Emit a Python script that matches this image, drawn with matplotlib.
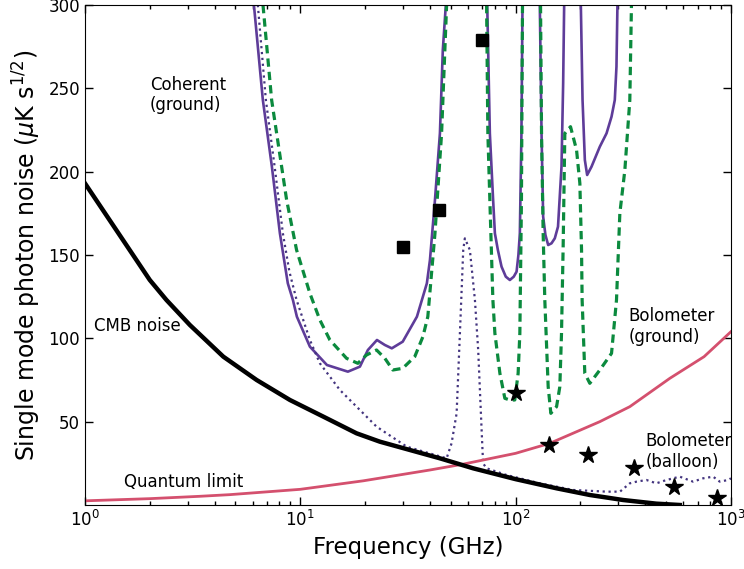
import numpy as np
import matplotlib
matplotlib.use('Agg')
import matplotlib.pyplot as plt

nan = np.nan

# CMB photon noise
cmb_freq = [1, 2, 2.39, 3.07, 4.39, 6.27, 8.95, 12.8, 18.25, 23.4, 44.5, 63.5,
            100, 155, 221, 315, 450, 578]
cmb_noise = [193, 135, 123, 108, 89, 75, 63, 53, 43, 38, 28, 22,
             15.5, 10, 6, 3, 0.8, 0]

# quantum limit
q_freq = [1, 2, 3.4, 4.7, 10, 19.6, 40, 57, 100, 144, 246, 339, 520, 750, 1000]
q_noise = [2.5, 3.8, 5.2, 6.2, 9.4, 14.5, 21, 24.5, 31, 37, 50, 59, 76, 89, 104]

# coherent (ground), solid - segments split by nan
coh_freq = [6.09, 6.70, 7.38, 8.04, 8.75, 9.24, 9.64, 11.08, 13.29, 16.63, 18.91,
            20.6, 22.7, 24.7, 26.6, 29.9, 34.8, 38.7, 40.0, 42.2, 44.5, 45.9, 47.4,
            nan,
            73.8, 75.9, 78.6, 80.1, 82.7, 86.0, 90, 94, 98, 101, 103, 104.6, 106.4,
            107.6,
            nan,
            129.5, 131.9, 134.2, 137.5, 141.6, 146.7, 152, 157.3, 163.3, 166.2, 168,
            nan,
            200.8, 204.5, 209.6, 214.8, 225.1, 246, 264.3, 278.8, 288.7, 293.9, 297]
coh_noise = [300, 243, 203, 163, 133, 123, 113, 95, 84, 80, 83,
             93, 99, 96, 94, 98, 113, 133, 147, 183, 223, 273, 300,
             nan,
             300, 223, 183, 163, 153, 143, 137, 135, 137, 140, 150, 163, 223,
             300,
             nan,
             300, 223, 173, 162, 156, 157, 160, 167, 203, 253, 300,
             nan,
             300, 243, 207, 198, 203, 215, 223, 233, 243, 263, 300]

# coherent, dashed
coh2_freq = [6.71, 7.36, 8.64, 9.61, 11.08, 12.33, 13.72, 16.4, 18.5, 20.3, 22.6,
             24.7, 26.9, 29.9, 34.0, 37.1, 39.1, 42.2, 45.3, 47.8,
             nan,
             73.3, 74.3, 75.9, 78.4, 80.1, 84.5, 89.1, 94.0, 99.1, 102.7, 104.6,
             105.5, 106.4, 107.6,
             nan,
             130.5, 131.9, 134.2, 136.6, 141.6, 145.7, 154.9, 160.4, 163.3, 166.2,
             169.2, 179.8, 191.8, 198.7, 202.3, 203.6, 209.5, 221, 246, 278.8, 294,
             304.7, 321.5, 339, 345]
coh2_noise = [300, 243, 183, 153, 127, 111, 99, 88, 85, 90, 93,
              88, 81, 82, 89, 101, 113, 163, 223, 300,
              nan,
              300, 223, 183, 123, 103, 79, 64, 63, 63, 79, 103,
              143, 183, 300,
              nan,
              300, 223, 163, 123, 71, 55, 59, 71, 103, 155,
              223, 227, 213, 193, 153, 123, 79, 73, 81, 91, 123,
              175, 201, 243, 300]

# coherent, dotted
coh3_freq = [6.35, 6.92, 7.6, 8.3, 8.9, 9.61, 11.08, 12.33, 15.27, 18.25, 22.6, 31.2,
             47.8, 50.4, 53.2, 55.1, 57.1, 58.1, 61.3, 64.7, 67.0, 69.5, 70.6, 73.3,
             90.7, 129.5, 185, 264, 305, 339, 364, 405, 450, 502, 578, 667, 742,
             826, 887, 970, 1000]
coh3_noise = [300, 243, 203, 163, 140, 123, 99, 85, 69, 59, 47, 35,
              28, 37, 55, 103, 153, 160, 153, 123, 93, 45, 25, 22,
              18, 13, 9, 8, 8, 13, 14, 15, 13, 15, 17, 14, 16,
              17, 14, 15, 16]

# Planck points
lfi_freq = [30, 44, 70]
lfi_noise = [155, 177, 279]
hfi_freq = [100, 143, 217, 353, 545, 857]
hfi_noise = [67, 36, 30, 22, 11, 4]

plt.rcParams['xtick.direction'] = 'in'
plt.rcParams['ytick.direction'] = 'in'
plt.rcParams['xtick.top'] = True
plt.rcParams['ytick.right'] = True

fig = plt.figure(figsize=(7.44, 5.69), dpi=100)
ax = fig.add_axes([0.1142, 0.1125, 0.8683, 0.8787])

ax.plot(coh_freq, coh_noise, color='#5e3c99', lw=1.9)
ax.plot(coh2_freq, coh2_noise, color='#0b8a3e', lw=2.3, ls='--', dashes=(2.6, 1.6))
ax.plot(coh3_freq, coh3_noise, color='#43347f', lw=1.6, ls=':')
ax.plot(q_freq, q_noise, color='#d4506e', lw=2.0)
ax.plot(cmb_freq, cmb_noise, color='black', lw=3.2)
ax.plot(lfi_freq, lfi_noise, 's', color='black', ms=9)
ax.plot(hfi_freq, hfi_noise, '*', color='black', ms=13)

ax.set_xscale('log')
ax.set_xlim(1, 1000)
ax.set_ylim(0, 300)
ax.set_yticks([50, 100, 150, 200, 250, 300])
ax.tick_params(labelsize=12)
ax.tick_params(which='major', length=6, width=1)
ax.tick_params(which='minor', length=3, width=1)

ax.set_xlabel('Frequency (GHz)', fontsize=16.5)
ax.set_ylabel(r'Single mode photon noise ($\mu$K s$^{1/2}$)', fontsize=17)

ax.text(2.0, 246, 'Coherent\n(ground)', fontsize=12, va='center', ha='left')
ax.text(1.1, 107.6, 'CMB noise', fontsize=12, va='center', ha='left')
ax.text(1.51, 14, 'Quantum limit', fontsize=12, va='center', ha='left')
ax.text(333, 107, 'Bolometer\n(ground)', fontsize=12, va='center', ha='left')
ax.text(402, 32, 'Bolometer\n(balloon)', fontsize=12, va='center', ha='left')

fig.savefig('out.png', dpi=100)
